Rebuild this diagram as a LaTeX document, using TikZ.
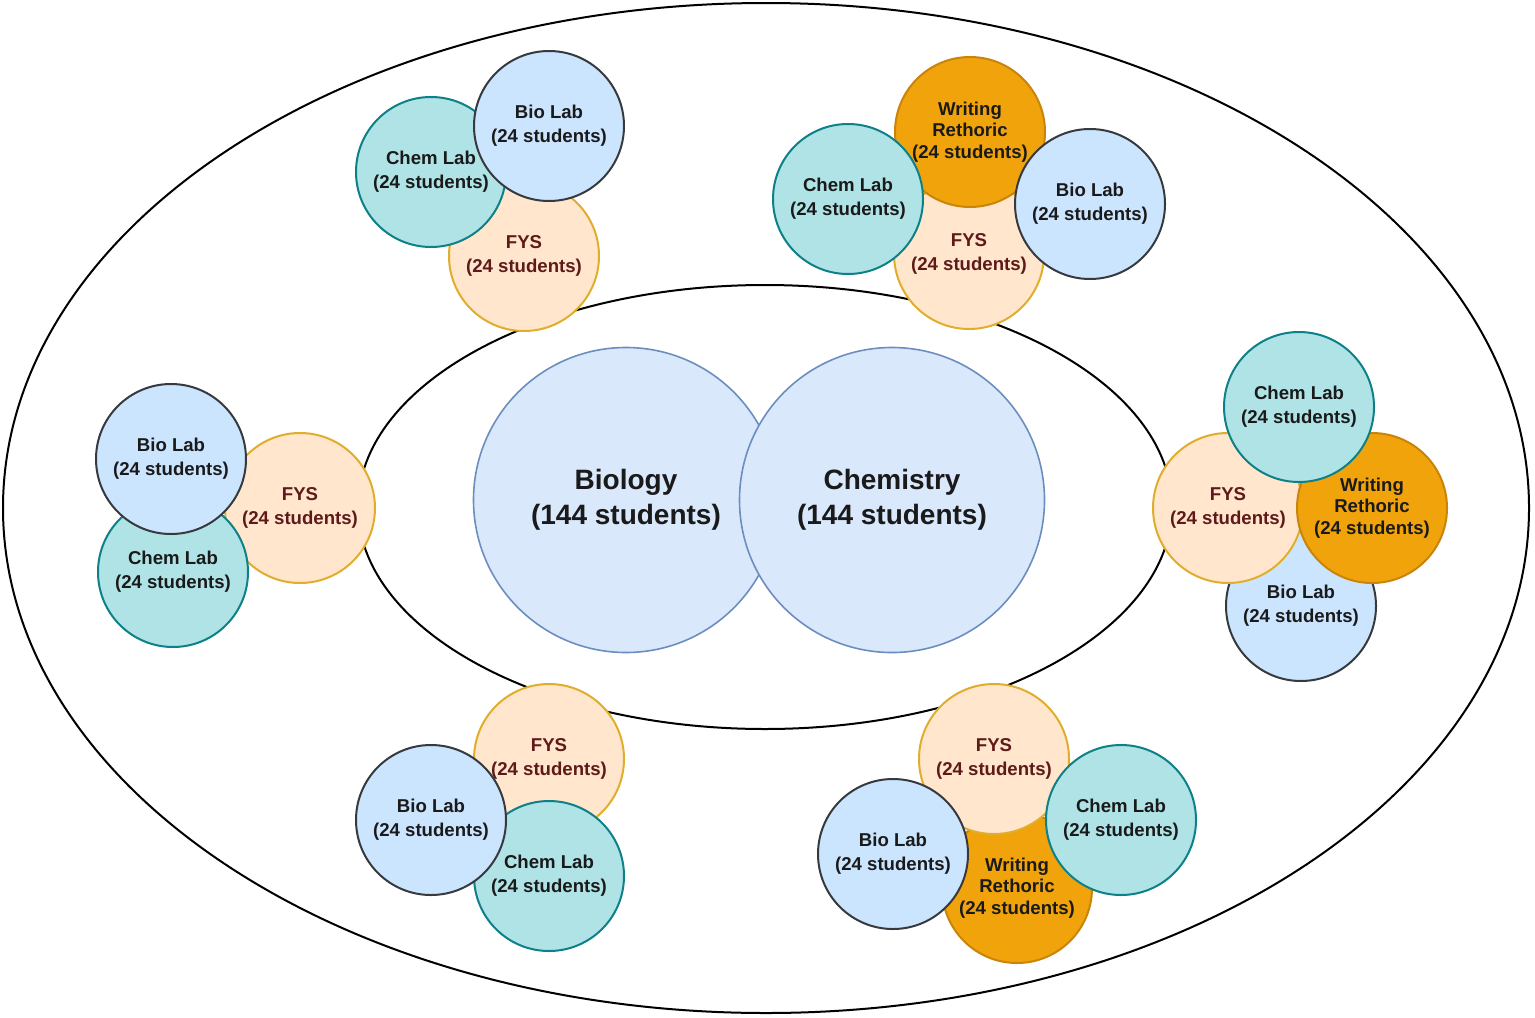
\documentclass[tikz,border=0pt]{standalone}
\usepackage{fontspec}
\setmainfont{Liberation Sans}
\definecolor{bigF}{HTML}{DAE8FC}
\definecolor{bigS}{HTML}{6C8EBF}
\definecolor{bioF}{HTML}{CCE5FF}
\definecolor{bioS}{HTML}{36393D}
\definecolor{chemF}{HTML}{B0E3E6}
\definecolor{chemS}{HTML}{0E8088}
\definecolor{fysF}{HTML}{FFE6CC}
\definecolor{fysS}{HTML}{E0AE2C}
\definecolor{fysT}{HTML}{5E1A1A}
\definecolor{wrF}{HTML}{F0A30A}
\definecolor{wrS}{HTML}{C98409}
\definecolor{txtD}{HTML}{1A1A1A}
\tikzset{
  small/.style={circle, line width=1pt, minimum size=75pt, inner sep=0pt, align=center,
    font=\bfseries\fontsize{9.3}{12}\selectfont, text=txtD},
  biolab/.style={small, draw=bioS, fill=bioF},
  chemlab/.style={small, draw=chemS, fill=chemF},
  fysbox/.style={small, draw=fysS, fill=fysF, text=fysT},
  writebox/.style={small, draw=wrS, fill=wrF, font=\bfseries\fontsize{9.3}{10.9}\selectfont},
  bigc/.style={circle, draw=bigS, fill=bigF, line width=0.8pt, minimum size=152.5pt, inner sep=0pt,
    align=center, font=\bfseries\fontsize{14}{17.5}\selectfont, text=txtD},
  ring/.style={draw=black, line width=1pt}
}
\begin{document}
\begin{tikzpicture}[x=0.5pt,y=-0.5pt]
\useasboundingbox (0,0) rectangle (1535,1017);
\fill[white] (0,0) rectangle (1535,1017);
\draw[ring] (766,508) ellipse [x radius=381.5pt, y radius=252.5pt];
\draw[ring] (765,507) ellipse [x radius=203.5pt, y radius=111pt];
% centre
\node[bigc] (bio) at (626,500) {Biology\\(144 students)};
\node[bigc] (chem) at (892,500) {Chemistry\\(144 students)};
% top-left
\node[fysbox] (tlF) at (524,256) {FYS\\(24 students)};
\node[chemlab] (tlC) at (431,172) {Chem Lab\\(24 students)};
\node[biolab] (tlB) at (549,126) {Bio Lab\\(24 students)};
% top-right
\node[fysbox] (trF) at (969,254) {FYS\\(24 students)};
\node[writebox] (trW) at (970,132) {Writing\\Rethoric\\(24 students)};
\node[chemlab] (trC) at (848,199) {Chem Lab\\(24 students)};
\node[biolab] (trB) at (1090,204) {Bio Lab\\(24 students)};
% left
\node[fysbox] (lF) at (300,508) {FYS\\(24 students)};
\node[chemlab] (lC) at (173,572) {Chem Lab\\(24 students)};
\node[biolab] (lB) at (171,459) {Bio Lab\\(24 students)};
% right
\node[biolab] (rB) at (1301,606) {Bio Lab\\(24 students)};
\node[fysbox] (rF) at (1228,508) {FYS\\(24 students)};
\node[writebox] (rW) at (1372,508) {Writing\\Rethoric\\(24 students)};
\node[chemlab] (rC) at (1299,407) {Chem Lab\\(24 students)};
% bottom-left
\node[fysbox] (blF) at (549,759) {FYS\\(24 students)};
\node[chemlab] (blC) at (549,876) {Chem Lab\\(24 students)};
\node[biolab] (blB) at (431,820) {Bio Lab\\(24 students)};
% bottom-right
\node[writebox] (brW) at (1017,888) {Writing\\Rethoric\\(24 students)};
\node[fysbox] (brF) at (994,759) {FYS\\(24 students)};
\node[biolab] (brB) at (893,854) {Bio Lab\\(24 students)};
\node[chemlab] (brC) at (1121,820) {Chem Lab\\(24 students)};
\end{tikzpicture}
\end{document}
